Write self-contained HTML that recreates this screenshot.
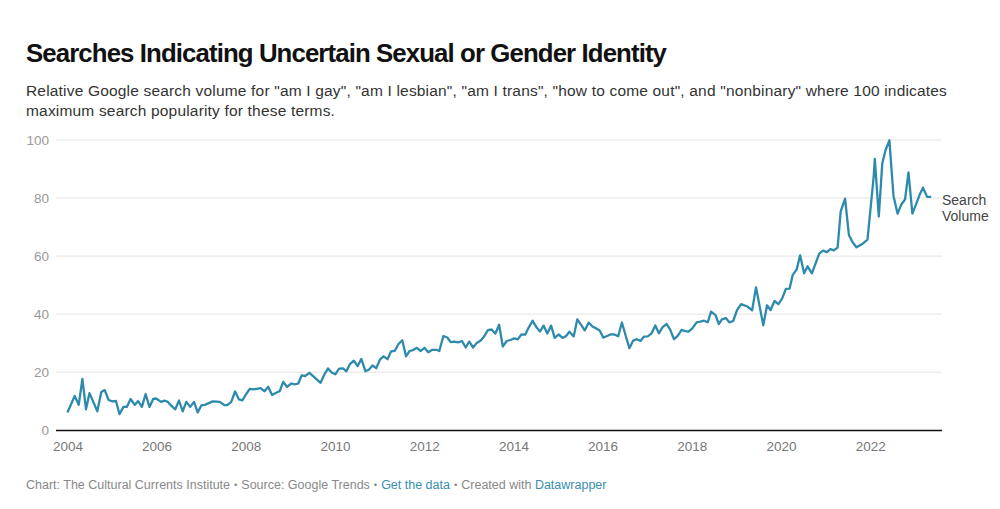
<!DOCTYPE html>
<html><head><meta charset="utf-8">
<style>
html,body{margin:0;padding:0;background:#fff;width:1000px;height:509px;overflow:hidden}
body{font-family:"Liberation Sans",sans-serif;position:relative}
.t{position:absolute;white-space:nowrap;line-height:1}
#title{left:26px;top:41px;font-size:25.8px;letter-spacing:-0.9px;font-weight:bold;color:#111}
#sub{left:26px;top:81px;font-size:15.5px;letter-spacing:0.18px;color:#333;line-height:19.7px}
#foot{left:26px;top:479px;font-size:12.5px;color:#888}
#foot b{font-weight:normal;font-size:9.5px;vertical-align:1px;padding:0 0.5px}
#foot a{color:#3a8eb0;text-decoration:none}
svg{position:absolute;left:0;top:0}
</style></head><body>
<div class="t" id="title">Searches Indicating Uncertain Sexual or Gender Identity</div>
<div class="t" id="sub">Relative Google search volume for "am I gay", "am I lesbian", "am I trans", "how to come out", and "nonbinary" where 100 indicates<br>maximum search popularity for these terms.</div>
<svg width="1000" height="509" viewBox="0 0 1000 509">
<line x1="56" x2="942" y1="372.2" y2="372.2" stroke="#e3e3e3" stroke-width="1"/>
<line x1="56" x2="942" y1="314.1" y2="314.1" stroke="#e3e3e3" stroke-width="1"/>
<line x1="56" x2="942" y1="256.1" y2="256.1" stroke="#e3e3e3" stroke-width="1"/>
<line x1="56" x2="942" y1="198.0" y2="198.0" stroke="#e3e3e3" stroke-width="1"/>
<line x1="56" x2="942" y1="140.0" y2="140.0" stroke="#e3e3e3" stroke-width="1"/>

<line x1="56" x2="942" y1="430.5" y2="430.5" stroke="#111" stroke-width="1.5"/>
<g font-family="Liberation Sans" font-size="13.5" fill="#999">
<text x="49" y="435.0" text-anchor="end">0</text>
<text x="49" y="377.0" text-anchor="end">20</text>
<text x="49" y="318.9" text-anchor="end">40</text>
<text x="49" y="260.9" text-anchor="end">60</text>
<text x="49" y="202.8" text-anchor="end">80</text>
<text x="49" y="144.8" text-anchor="end">100</text>

</g>
<g font-family="Liberation Sans" font-size="13.5" fill="#777" text-anchor="middle">
<text x="67.9" y="451">2004</text>
<text x="157.1" y="451">2006</text>
<text x="246.3" y="451">2008</text>
<text x="335.5" y="451">2010</text>
<text x="424.7" y="451">2012</text>
<text x="513.9" y="451">2014</text>
<text x="603.1" y="451">2016</text>
<text x="692.3" y="451">2018</text>
<text x="781.5" y="451">2020</text>
<text x="870.7" y="451">2022</text>

</g>
<path d="M67.4,412.5 L74.7,396.0 L78.7,404.9 L82.4,378.8 L86.0,409.3 L89.5,393.1 L97.3,411.3 L101.3,392.1 L104.7,390.1 L108.6,400.0 L112.6,401.4 L116.0,401.0 L119.5,414.2 L123.4,406.9 L126.8,406.9 L130.6,399.0 L134.7,404.9 L138.1,401.0 L141.9,406.9 L145.6,394.1 L149.5,406.9 L153.2,399.0 L156.1,398.5 L161.0,401.9 L164.5,400.7 L167.9,401.9 L171.4,405.9 L175.3,409.3 L179.0,400.5 L182.7,411.3 L186.3,401.9 L190.2,406.9 L194.0,401.9 L197.7,412.5 L201.3,405.4 L204.8,404.9 L208.2,403.4 L212.6,401.4 L219.8,401.9 L224.3,405.1 L227.2,405.1 L231.1,402.2 L235.1,391.5 L239.0,399.4 L242.4,400.4 L245.9,394.5 L249.8,388.8 L253.2,389.4 L256.7,388.8 L260.6,388.1 L264.5,391.3 L268.2,386.8 L272.1,395.0 L275.8,393.0 L279.8,391.0 L283.2,381.9 L287.0,386.8 L291.4,383.5 L294.8,384.3 L298.3,383.5 L301.7,375.3 L305.1,376.0 L309.4,372.8 L314.5,377.4 L320.6,382.8 L324.1,375.0 L328.0,368.4 L331.7,372.5 L335.3,374.3 L339.1,368.6 L343.0,368.4 L346.4,371.3 L349.9,364.2 L353.8,360.7 L357.7,366.1 L361.3,358.9 L365.4,371.2 L368.8,369.7 L372.6,365.5 L376.2,368.2 L380.1,359.4 L383.6,356.3 L387.5,359.2 L391.0,351.5 L394.9,350.7 L398.3,344.2 L402.3,340.2 L406.0,356.3 L409.6,351.0 L413.1,350.1 L416.8,347.8 L420.7,351.0 L424.4,347.8 L428.3,352.3 L432.2,349.8 L436.2,349.8 L439.3,351.0 L443.4,336.0 L447.3,337.5 L450.7,342.2 L454.2,341.6 L458.1,342.4 L462.0,341.0 L465.7,347.5 L469.2,341.6 L473.1,347.5 L476.8,342.9 L480.7,340.5 L484.1,336.5 L487.9,330.1 L491.5,329.5 L495.4,333.6 L499.1,324.7 L502.8,346.6 L506.7,341.0 L510.5,340.0 L514.2,338.4 L517.7,339.4 L521.6,334.3 L525.2,334.7 L528.7,327.6 L532.6,320.7 L536.3,327.1 L540.0,331.5 L543.6,325.6 L547.3,333.5 L551.1,325.6 L554.7,337.9 L558.6,334.5 L562.6,337.9 L566.0,336.0 L569.5,331.7 L573.7,336.4 L577.3,319.3 L581.0,324.7 L584.7,330.4 L588.7,322.6 L592.7,326.8 L596.3,328.4 L599.7,330.4 L603.2,337.6 L607.1,336.0 L611.0,334.3 L614.5,334.5 L618.2,336.3 L621.9,322.5 L625.5,335.0 L629.4,348.2 L633.2,340.6 L636.9,339.2 L640.5,340.9 L644.0,336.6 L647.7,336.3 L651.6,333.3 L655.3,325.4 L658.9,333.3 L662.6,327.1 L666.7,324.0 L670.3,329.9 L674.0,339.2 L677.7,335.8 L681.6,329.9 L685.1,331.2 L688.5,331.6 L692.4,328.4 L696.6,322.3 L700.3,321.7 L704.0,320.7 L707.7,322.3 L711.1,311.7 L715.5,315.1 L718.8,324.0 L721.9,319.4 L725.8,318.1 L729.3,322.3 L733.2,321.0 L737.1,310.0 L741.1,304.2 L747.4,306.5 L752.1,310.4 L756.0,287.3 L763.3,325.4 L767.0,305.3 L770.6,310.0 L774.5,301.0 L778.4,304.2 L782.1,298.6 L785.9,288.8 L789.6,288.6 L792.7,275.1 L796.8,269.2 L800.1,255.3 L804.1,273.3 L807.6,266.3 L811.9,273.3 L815.9,262.7 L819.2,253.6 L823.0,250.6 L826.9,252.1 L830.4,249.2 L833.8,250.3 L837.6,247.6 L840.7,211.4 L845.1,198.6 L848.9,235.0 L852.5,242.1 L856.4,247.3 L862.7,243.7 L867.5,239.7 L873.6,177.5 L874.8,158.8 L878.8,216.5 L882.3,163.2 L885.6,150.0 L889.4,140.3 L893.5,196.0 L897.6,213.7 L901.1,204.8 L905.0,199.5 L908.5,172.5 L912.4,213.7 L916.5,203.1 L919.5,195.1 L923.0,187.7 L927.1,196.9 L931.2,196.9" fill="none" stroke="#2e8aac" stroke-width="2.3" stroke-linejoin="round" stroke-linecap="butt"/>
<g font-family="Liberation Sans" font-size="14" fill="#444">
<text x="942" y="204.5">Search</text>
<text x="942" y="221">Volume</text>
</g>
</svg>
<div class="t" id="foot">Chart: The Cultural Currents Institute <b>•</b> Source: Google Trends <b>•</b> <a>Get the data</a> <b>•</b> Created with <a>Datawrapper</a></div>
</body></html>
